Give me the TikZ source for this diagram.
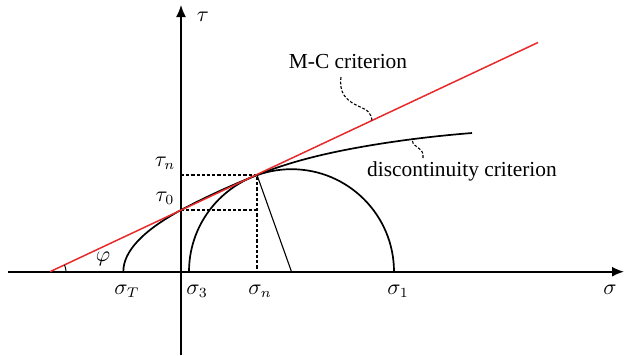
\documentclass[tikz,border=0pt]{standalone}
\usepackage{fontspec}
\setmainfont{Liberation Serif}
\usepackage{tikz}
\usetikzlibrary{arrows.meta,positioning,calc}
\definecolor{MCRed}{HTML}{E82A2A}

\begin{document}
\begin{tikzpicture}[x=0.5pt,y=-0.5pt,font=\fontsize{10.7}{12}\selectfont,
  axisline/.style={line width=0.8pt,-{Latex[length=6pt,width=5pt]}},
  guide/.style={line width=0.55pt,dash pattern=on 1.6pt off 1pt},
  pointer/.style={line width=0.55pt,dash pattern=on 1.4pt off 0.9pt}]
  \useasboundingbox (0,0) rectangle (626,355);
  \coordinate (xs) at (8,271.7);
  \coordinate (xe) at (624,271.7);
  \coordinate (ys) at (181,355);
  \coordinate (ye) at (181,5);
  \coordinate (O) at (181,271.7);
  \coordinate (T0) at (181,210);
  \coordinate (taun) at (181,175);
  \coordinate (Tn) at (257,175);
  \coordinate (C) at (291.5,271.7);
  \coordinate (S3) at (189,271.7);
  \coordinate (ST) at (123.3,271.7);
  \coordinate (P) at (50,271.7);
  \coordinate (mcEnd) at (538,42.5);
  \coordinate (dcEnd) at (472,133);
  \draw[axisline] (xs) -- (xe);
  \draw[axisline] (ys) -- (ye);
  \draw[guide] (taun) -- (Tn) -- (Tn |- O);
  \draw[guide] (T0) -- (T0 -| Tn);
  \draw[line width=0.85pt] (S3) arc[start angle=180,end angle=360,radius=102.5];
  \draw[line width=0.55pt] (Tn) -- (C);
  \draw[line width=0.85pt] (ST) .. controls (123.3,251.2) and (143.1,230.6) .. (T0)
    .. controls (206,196.8) and (232,185) .. (Tn)
    .. controls (288,162.6) and (319,154.9) .. (350,149)
    .. controls (390,141.4) and (432,136.2) .. (dcEnd);
  \draw[MCRed,line width=0.75pt] (P) -- (mcEnd);
  \draw[line width=0.5pt] ($(P)+(16,0)$) arc[start angle=0,end angle=-25,radius=16];
  % labels
  \node (tau) at (203,17) {$\tau$};
  \node (sig) at (610,290) {$\sigma$};
  \node (taunL) at (165,163) {$\tau_n$};
  \node (tau0L) at (165,198) {$\tau_0$};
  \node (sigT) at (127,291) {$\sigma_T$};
  \node (sig3) at (197,291) {$\sigma_3$};
  \node (sign) at (260,291) {$\sigma_n$};
  \node (sig1) at (398,291) {$\sigma_1$};
  \node (phi) at (103,259) {$\varphi$};
  \node (mc) at (348,62) {M-C criterion};
  \node (dc) at (462,171) {discontinuity criterion};
  \coordinate (mcA) at (341,77);
  \coordinate (mcB) at (372,120.4);
  \coordinate (dcA) at (423,158);
  \coordinate (dcB) at (412,138.8);
  \draw[pointer] (mcA) .. controls (339,92) and (345,100) .. (358,106)
    .. controls (368,110) and (371,113) .. (mcB);
  \draw[pointer] (dcA) .. controls (424,152) and (421,150) .. (417,147)
    .. controls (413,144) and (412,142) .. (dcB);
\end{tikzpicture}
\end{document}
